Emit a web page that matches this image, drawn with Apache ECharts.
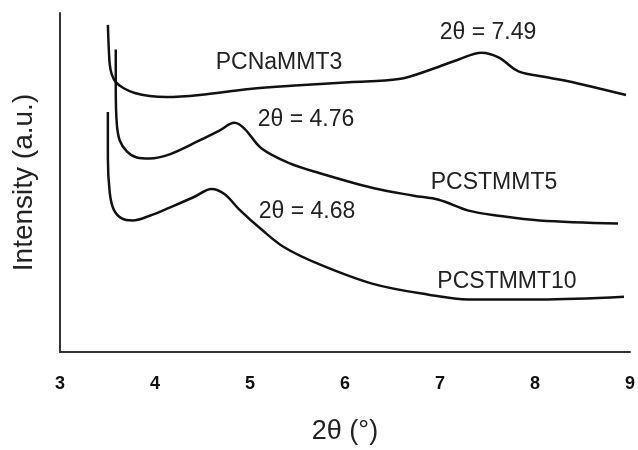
<!DOCTYPE html>
<html>
<head>
<meta charset="utf-8">
<script src="https://cdn.jsdelivr.net/npm/echarts@6/dist/echarts.min.js"></script>
<style>html,body{margin:0;padding:0;background:#fff}#c{width:638px;height:450px}</style>
</head>
<body>
<div id="c"></div>
<script>
// 2θ (degrees) and intensity (a.u.) for each pattern
const pcNaMMT3_x = [3.504,3.514,3.524,3.545,3.587,3.671,3.787,3.944,4.122,4.469,4.993,5.518,6.042,6.567,6.913,7.196,7.437,7.616,7.826,8.140,8.486,8.958];
const pcNaMMT3_y = [96.5,89.2,84.8,81.9,79.6,77.8,76.4,75.5,75.2,75.8,77.6,78.7,79.6,80.5,83.4,86.3,88.3,86.9,82.8,81.0,79.0,75.8];

const pcSTMMT5_x = [3.587,3.587,3.598,3.629,3.703,3.808,3.944,4.154,4.469,4.678,4.836,4.941,5.119,5.413,5.727,6.294,6.724,6.986,7.301,7.616,8.046,8.874];
const pcSTMMT5_y = [89.2,77.6,67.3,62.4,59.2,57.4,57.1,58.3,62.4,65.3,67.6,65.9,60.1,55.7,52.8,48.4,46.1,44.9,41.7,40.2,38.8,37.9];

const pcSTMMT10_x = [3.504,3.504,3.524,3.566,3.650,3.766,3.944,4.154,4.416,4.594,4.731,4.888,5.119,5.360,5.727,6.294,6.881,7.301,8.046,8.937];
const pcSTMMT10_y = [70.8,57.1,46.9,42.0,39.4,38.8,40.2,42.6,45.8,48.1,46.6,42.0,36.2,30.9,25.9,20.1,16.9,15.5,15.5,16.3];

const xTicks = [3,4,5,6,7,8,9];
const seriesNames = ['PCNaMMT3','PCSTMMT5','PCSTMMT10'];
const peakLabels = ['2θ = 7.49','2θ = 4.76','2θ = 4.68'];

const zip = (xs, ys) => xs.map((x, i) => [x, ys[i]]);
const FONT = 'Liberation Sans, Arial, sans-serif';
const chart = echarts.init(document.getElementById('c'), null, {renderer: 'canvas'});

const lineStyle = {color: '#111', width: 2.5};
function mk(name, xs, ys) {
  return {name, type: 'line', data: zip(xs, ys), showSymbol: false, symbol: 'none',
    smooth: 0.35, lineStyle, silent: true, animation: false};
}
const label = (t, x, y) => ({type: 'text', x, y,
  style: {text: t, fill: '#222', font: '23px ' + FONT, align: 'center', verticalAlign: 'middle'}});

chart.setOption({
  backgroundColor: '#fff',
  animation: false,
  grid: {left: 60, top: 13, right: 4, bottom: 94},
  xAxis: {
    type: 'value', min: 3, max: 9, interval: 1,
    axisLine: {show: true, lineStyle: {color: '#333', width: 2}},
    axisTick: {show: false}, splitLine: {show: false},
    axisLabel: {margin: 23, color: '#111', fontSize: 18, fontWeight: 'bold',
      fontFamily: 'Liberation Sans Narrow, Liberation Sans, Arial, sans-serif',
      formatter: v => xTicks.includes(v) ? String(v) : ''},
    name: '2θ (°)', nameLocation: 'middle', nameGap: 66,
    nameTextStyle: {fontSize: 27, color: '#222', fontFamily: FONT}
  },
  yAxis: {
    type: 'value', min: 0, max: 100,
    axisLine: {show: true, lineStyle: {color: '#333', width: 2}},
    axisTick: {show: false}, splitLine: {show: false}, axisLabel: {show: false},
    name: 'Intensity (a.u.)', nameLocation: 'middle', nameGap: 22,
    nameTextStyle: {fontSize: 28, color: '#222', fontFamily: FONT}
  },
  series: [
    mk(seriesNames[0], pcNaMMT3_x, pcNaMMT3_y),
    mk(seriesNames[1], pcSTMMT5_x, pcSTMMT5_y),
    mk(seriesNames[2], pcSTMMT10_x, pcSTMMT10_y)
  ],
  graphic: [
    label(seriesNames[0], 279, 63),
    label(peakLabels[0], 488, 33),
    label(peakLabels[1], 306, 120),
    label(seriesNames[1], 494, 183),
    label(peakLabels[2], 307, 212),
    label(seriesNames[2], 507, 282)
  ]
});
</script>
</body>
</html>
